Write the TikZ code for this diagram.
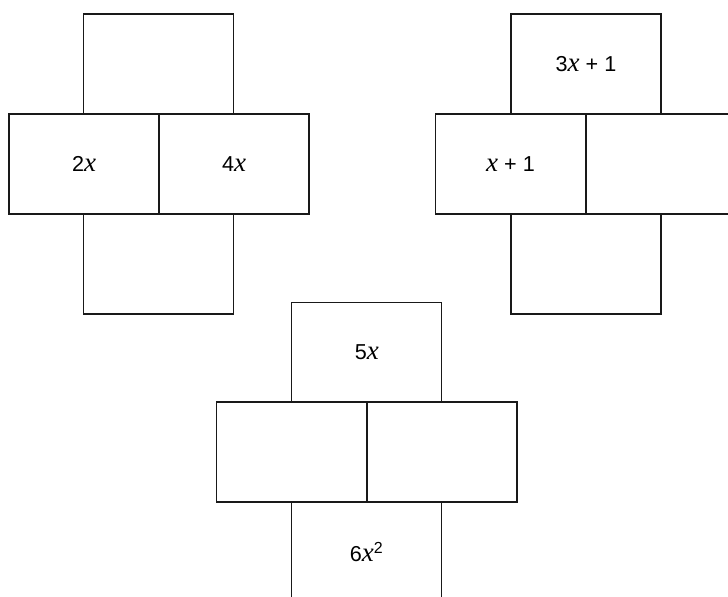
\documentclass[tikz,border=0pt]{standalone}
\usepackage{fontspec}
\setmainfont{Liberation Sans}
\newfontfamily\myserif{Liberation Serif}
\newcommand\varx{{\myserif\itshape\fontsize{13.5}{14}\selectfont x}}
\tikzset{
  cell/.style={draw=black!90, line width=0.65pt, minimum width=75pt, minimum height=50pt, inner sep=0pt, font=\fontsize{10.8}{13}\selectfont},
}
\begin{document}
\begin{tikzpicture}[x=0.5pt,y=-0.5pt]
\useasboundingbox (0,0) rectangle (728,596);
\clip (0,0) rectangle (728,596);
% left cross
\node[cell] (a1) at (158.5,64) {};
\node[cell] (a2) at (84,164) {2\varx};
\node[cell] (a3) at (234,164) {4\varx};
\node[cell] (a4) at (158.5,264) {};
% right cross
\node[cell] (b1) at (586,64) {3\varx\ + 1};
\node[cell] (b2) at (510.5,164) {\varx\ + 1};
\node[cell] (b3) at (661,164) {};
\node[cell] (b4) at (586,264) {};
% bottom cross
\node[cell] (c1) at (366.8,352.3) {5\varx};
\node[cell] (c2) at (291.7,452) {};
\node[cell] (c3) at (442,452) {};
\node[cell] (c4) at (366.8,552) {6\varx\textsuperscript{\fontsize{8}{9}\selectfont 2}};
\end{tikzpicture}
\end{document}
